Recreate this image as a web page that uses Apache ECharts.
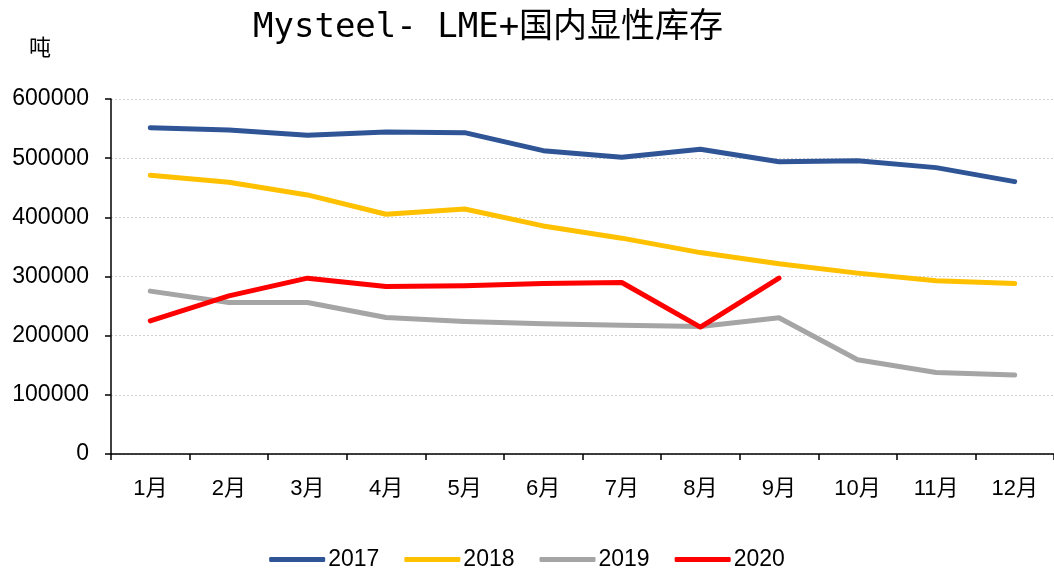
<!DOCTYPE html>
<html>
<head>
<meta charset="utf-8">
<title>Mysteel- LME+国内显性库存</title>
<script src="https://cdn.jsdelivr.net/npm/echarts@6/dist/echarts.min.js"></script>
<style>
  html, body { margin: 0; padding: 0; background: #fff; }
  #chart { width: 1054px; height: 574px; }
</style>
</head>
<body>
<div id="chart"></div>
<script>
// 月份
var months = ["1月", "2月", "3月", "4月", "5月", "6月", "7月", "8月", "9月", "10月", "11月", "12月"];
// 各年库存（吨）
var stock2017 = [551500, 547700, 538700, 544300, 543100, 512700, 501500, 515100, 494100, 495800, 484000, 460300];
var stock2018 = [471100, 459300, 437900, 405300, 414200, 385500, 364800, 340400, 321400, 305700, 292700, 288100];
var stock2019 = [275300, 256000, 256000, 230700, 223900, 220000, 217800, 215500, 230200, 159200, 137800, 133400];
var stock2020 = [225100, 267300, 297200, 283000, 284200, 288100, 289800, 214500, 297200];
var yTicks = [0, 100000, 200000, 300000, 400000, 500000, 600000];

var colors = {
  "2017": "#2F5597",
  "2018": "#FFC000",
  "2019": "#A5A5A5",
  "2020": "#FF0000"
};

var myChart = echarts.init(document.getElementById("chart"));

function lineSeries(name, data) {
  return {
    name: name,
    type: "line",
    data: data,
    symbol: "none",
    smooth: false,
    color: colors[name],
    lineStyle: { width: 5, cap: "round", join: "round" }
  };
}

var option = {
  backgroundColor: "#fff",
  animation: false,
  title: {
    text: "Mysteel- LME+国内显性库存",
    left: 248,
    top: 6,
    textStyle: {
      fontFamily: "'DejaVu Sans Mono', 'Noto Sans CJK SC'",
      fontSize: 34,
      fontWeight: "normal",
      color: "#000"
    }
  },
  // 单位
  graphic: [{
    type: "text",
    left: 29,
    top: 36,
    style: { text: "吨", fontSize: 22, fontFamily: "'Noto Sans CJK SC'", fill: "#000" }
  }],
  legend: {
    data: ["2017", "2018", "2019", "2020"],
    top: 543,
    left: "center",
    icon: "roundRect",
    itemWidth: 56,
    itemHeight: 5,
    itemGap: 25,
    textStyle: { fontSize: 23, color: "#000", fontFamily: "'Liberation Sans', Arial", padding: [0, 0, 0, -2] }
  },
  grid: {
    left: 111,
    right: -3,
    top: 99,
    bottom: 120
  },
  xAxis: {
    type: "category",
    data: months,
    boundaryGap: true,
    axisLine: { lineStyle: { color: "#000", width: 1.5 } },
    axisTick: { show: true, length: 6, lineStyle: { color: "#000", width: 1.5 } },
    axisLabel: {
      margin: 24,
      fontSize: 22,
      color: "#000",
      fontFamily: "'Liberation Sans', 'Noto Sans CJK SC'"
    }
  },
  yAxis: {
    type: "value",
    min: yTicks[0],
    max: yTicks[yTicks.length - 1],
    interval: 100000,
    axisLine: { show: true, lineStyle: { color: "#000", width: 1.5 } },
    axisTick: { show: true, length: 6, lineStyle: { color: "#000", width: 1.5 } },
    axisLabel: {
      margin: 22,
      fontSize: 23,
      color: "#000",
      fontFamily: "'Liberation Sans', Arial",
      formatter: function (v) { return String(v); }
    },
    splitLine: {
      show: true,
      lineStyle: { color: "#D0D0D0", type: [2, 2], width: 1 }
    }
  },
  series: [
    lineSeries("2017", stock2017),
    lineSeries("2018", stock2018),
    lineSeries("2019", stock2019),
    lineSeries("2020", stock2020)
  ]
};

myChart.setOption(option);
</script>
</body>
</html>
